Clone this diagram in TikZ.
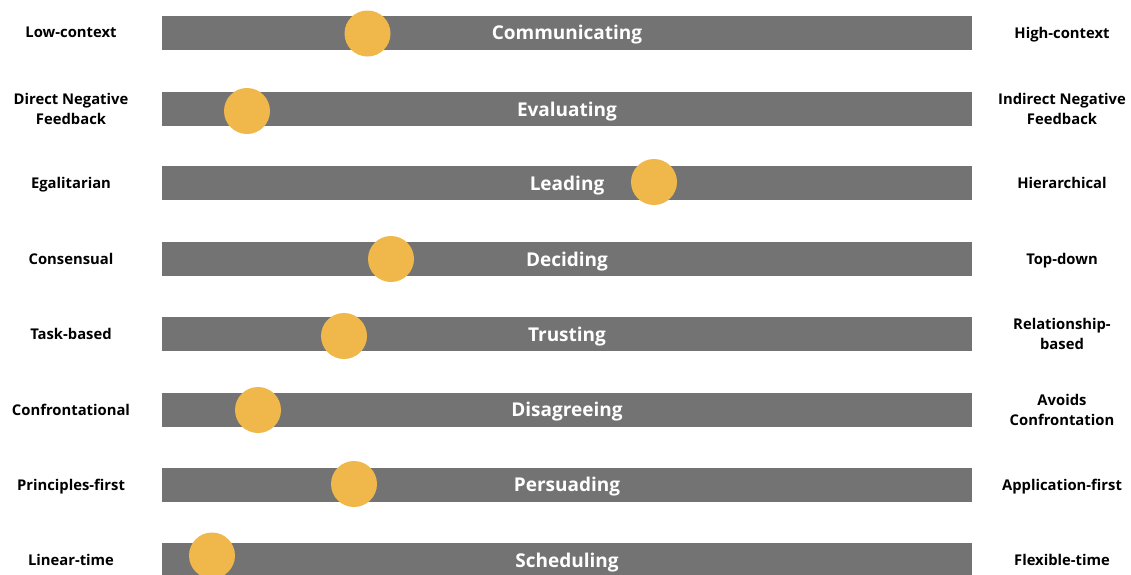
\documentclass[tikz,border=0pt]{standalone}
\usepackage{fontspec}
\setmainfont{Open Sans}
\usepackage{xcolor}
\usetikzlibrary{positioning}

\definecolor{barGray}{HTML}{737373}
\definecolor{dotYellow}{HTML}{F0B84A}

\tikzset{
  scalebar/.style={fill=barGray,text=white,font=\bfseries\fontsize{9.5}{12}\selectfont,
    minimum width=405pt,minimum height=17pt,inner sep=0pt,text depth=0pt},
  marker/.style={circle,fill=dotYellow,minimum size=23pt,inner sep=0pt},
  pole/.style={font=\bfseries\fontsize{7.4}{10}\selectfont,align=center,text=black,text depth=0pt},
}

\begin{document}
\begin{tikzpicture}[x=0.5pt,y=-0.5pt]
\clip (0,0) rectangle (1131,574);
\fill[white] (0,0) rectangle (1131,574);

% bars
\node[scalebar] (bar1) at (567,32.5) {Communicating};
\node[scalebar] (bar2) at (567,109) {Evaluating};
\node[scalebar] (bar3) at (567,183) {Leading};
\node[scalebar] (bar4) at (567,259) {Deciding};
\node[scalebar] (bar5) at (567,334) {Trusting};
\node[scalebar] (bar6) at (567,409.5) {Disagreeing};
\node[scalebar] (bar7) at (567,484.5) {Persuading};
\node[scalebar] (bar8) at (567,560) {Scheduling};

% dots
\node[marker] (dot1) at (367.5,33.5) {};
\node[marker] (dot2) at (247,111) {};
\node[marker] (dot3) at (654,182) {};
\node[marker] (dot4) at (391,259) {};
\node[marker] (dot5) at (344,336) {};
\node[marker] (dot6) at (258,410) {};
\node[marker] (dot7) at (354,484) {};
\node[marker] (dot8) at (212,555.5) {};

% left poles
\node[pole] (left1) at (71,32.5) {Low-context};
\node[pole] (left2) at (71,109) {Direct Negative\\Feedback};
\node[pole] (left3) at (71,183) {Egalitarian};
\node[pole] (left4) at (71,259) {Consensual};
\node[pole] (left5) at (71,334) {Task-based};
\node[pole] (left6) at (71,409.5) {Confrontational};
\node[pole] (left7) at (71,484.5) {Principles-first};
\node[pole] (left8) at (71,560) {Linear-time};

% right poles
\node[pole] (right1) at (1062,32.5) {High-context};
\node[pole] (right2) at (1062,109) {Indirect Negative\\Feedback};
\node[pole] (right3) at (1062,183) {Hierarchical};
\node[pole] (right4) at (1062,259) {Top-down};
\node[pole] (right5) at (1062,334) {Relationship-\\based};
\node[pole] (right6) at (1062,409.5) {Avoids\\Confrontation};
\node[pole] (right7) at (1062,484.5) {Application-first};
\node[pole] (right8) at (1062,560) {Flexible-time};
\end{tikzpicture}
\end{document}
